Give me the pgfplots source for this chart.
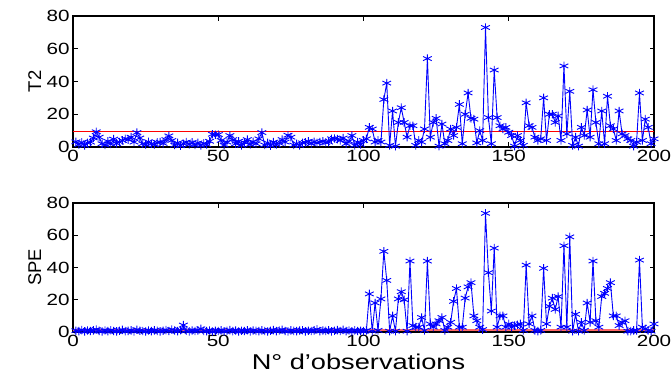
\documentclass[border=0pt]{standalone}
\usepackage{fontspec}
\setmainfont{Liberation Sans}[FakeStretch=1.27]
\newfontfamily\ylabfont{Liberation Sans}
\usepackage{pgfplots}
\usepackage{pgfplotstable}
\pgfplotsset{compat=1.18}

\pgfplotstableread{
x y
1 3.2
2 1.5
3 2.8
4 1.0
5 2.5
6 3.0
7 5.5
8 9.3
9 6.0
10 2.0
11 1.2
12 3.5
13 1.8
14 4.8
15 2.2
16 3.0
17 4.0
18 5.0
19 4.5
20 6.0
21 3.0
22 8.8
23 5.5
24 2.0
25 1.5
26 3.2
27 2.0
28 1.5
29 2.8
30 3.0
31 2.2
32 4.5
33 6.8
34 4.0
35 1.2
36 2.5
37 0.8
38 2.0
39 3.0
40 1.5
41 2.8
42 1.2
43 2.5
44 1.0
45 2.2
46 1.5
47 3.5
48 7.8
49 7.5
50 7.6
51 4.0
52 1.2
53 3.0
54 7.0
55 4.5
56 2.0
57 3.5
58 1.0
59 2.8
60 4.5
61 1.5
62 3.2
63 2.0
64 5.0
65 8.8
66 1.2
67 2.5
68 0.8
69 3.0
70 1.5
71 2.2
72 4.5
73 3.0
74 7.2
75 6.0
76 1.2
77 2.0
78 1.0
79 2.5
80 2.8
81 3.5
82 2.0
83 3.2
84 2.5
85 3.0
86 3.5
87 2.8
88 3.0
89 5.0
90 5.2
91 4.8
92 4.0
93 5.5
94 2.0
95 3.5
96 7.0
97 1.0
98 3.0
99 1.5
100 4.0
101 5
102 12
103 11
104 3
105 4
106 3
107 29
108 39
109 1
110 22
111 0.5
112 15
113 24
114 15
115 6
116 13
117 13
118 1
119 4
120 3
121 11
122 54
123 6
124 15
125 17.5
126 0.5
127 14
128 2
129 4
130 11
131 7
132 12
133 26
134 2
135 20
136 33
137 17.5
138 17
139 2.5
140 10
141 4
142 73
143 18
144 2
145 47
146 18
147 13
148 11
149 12
150 9
151 7
152 0.5
153 7
154 4
155 1
156 27
157 13
158 12
159 6
160 4
161 5
162 30
163 4
164 20
165 20
166 15
167 19
168 4
169 49.5
170 8
171 34
172 1
173 6
174 0.5
175 12
176 7
177 22.6
178 6
179 35
180 15
181 2
182 22
183 2
184 31
185 13
186 11
187 4
188 22
189 8
190 7
191 5
192 4
193 0.5
194 3
195 33
196 4
197 17
198 12
199 2
200 5
}\tTwo

\pgfplotstableread{
x y
1 0.8
2 0.5
3 1.2
4 0.4
5 0.9
6 0.6
7 1.0
8 1.5
9 0.7
10 0.3
11 0.9
12 0.5
13 1.1
14 0.6
15 0.4
16 0.8
17 1.3
18 0.5
19 0.7
20 1.0
21 0.4
22 1.4
23 0.8
24 0.6
25 0.3
26 0.9
27 0.5
28 1.0
29 0.7
30 0.4
31 0.8
32 1.2
33 0.6
34 1.5
35 0.9
36 0.5
37 1.1
38 4.3
39 0.8
40 0.4
41 0.9
42 0.6
43 1.0
44 2.0
45 0.7
46 0.5
47 0.9
48 0.3
49 0.8
50 0.6
51 1.0
52 0.4
53 0.7
54 1.2
55 0.5
56 0.9
57 0.3
58 0.8
59 0.6
60 1.1
61 0.4
62 0.9
63 0.7
64 0.5
65 1.0
66 0.6
67 0.3
68 0.8
69 1.2
70 0.5
71 0.9
72 1.4
73 0.6
74 0.4
75 1.0
76 0.7
77 0.5
78 0.9
79 1.1
80 0.4
81 0.8
82 0.6
83 1.0
84 1.6
85 0.5
86 0.9
87 0.7
88 1.1
89 0.4
90 0.8
91 1.2
92 0.6
93 1.3
94 0.5
95 0.9
96 0.4
97 1.0
98 0.6
99 0.8
100 0.5
101 1
102 23.6
103 0.5
104 18
105 1
106 20.5
107 50
108 32
109 0.5
110 10
111 0.5
112 20.5
113 25
114 20
115 0.5
116 44
117 4
118 3
119 3
120 9
121 1
122 44
123 5
124 3
125 5
126 7
127 9
128 1
129 3
130 6
131 19
132 27
133 3
134 3
135 21
136 28
137 30.6
138 10
139 7
140 3
141 1.5
142 73.6
143 36.8
144 13
145 52
146 3
147 10
148 10
149 3
150 5
151 3
152 4
153 4.5
154 5
155 1
156 41.5
157 5
158 10
159 1
160 0.5
161 1
162 39.5
163 5
164 16
165 21
166 14
167 22
168 3
169 53.5
170 3
171 59
172 0.5
173 11
174 0.5
175 6
176 1
177 18
178 6
179 44
180 7
181 3
182 22
183 24
184 27
185 30.6
186 10
187 10
188 4
189 6
190 7
191 0.5
192 0.5
193 1
194 1
195 44.6
196 3
197 2
198 1
199 0.5
200 5
}\spe

\definecolor{mred}{rgb}{1,0,0}
\definecolor{mblue}{rgb}{0,0,1}

\pgfplotsset{
  mstyle/.style={
    scale only axis, width=581bp,
    xmin=0, xmax=200, ymin=0, ymax=80,
    xtick={0,50,...,200}, ytick={0,20,...,80},
    tick align=inside, major tick length=4.5bp,
    axis line style={line width=1.1bp, black},
    tick style={line width=0.8bp, black},
    /pgf/number format/assume math mode=true,
    tick label style={font=\fontsize{16.3}{18}\selectfont},
    ylabel style={at={(axis description cs:-0.066,0.5)}, anchor=center,
      font=\ylabfont\fontsize{18.5}{20}\selectfont},
    clip=false,
  },
  dstyle/.style={color=mblue, line width=0.9bp, mark=asterisk, mark size=4.2bp,
    mark options={xscale=1.2, line width=0.9bp}},
}

\begin{document}
\begin{tikzpicture}
\useasboundingbox (0,0) rectangle (671bp,374bp);
\begin{axis}[mstyle, height=131bp, at={(73bp,227bp)}, anchor=south west, ylabel={T2}]
  \addplot[color=mred, line width=1.2bp, mark=none] table[row sep=\\] {x y\\ 0 9.6\\ 200 9.6\\};
  \addplot[dstyle] table[x=x,y=y] {\tTwo};
\end{axis}
\begin{axis}[mstyle, height=129bp, at={(73bp,42bp)}, anchor=south west, ylabel={SPE},
  xlabel={N° d'observations},
  xlabel style={at={(axis description cs:0.5,0)}, anchor=base, yshift=-37bp, xshift=-5bp,
    font=\fontsize{21.5}{24}\selectfont}]
  \addplot[dstyle] table[x=x,y=y] {\spe};
  \addplot[color=mred!60!white, line width=1.4bp, mark=none] coordinates {(0,1.2) (200,1.2)};
\end{axis}
\end{tikzpicture}
\end{document}
